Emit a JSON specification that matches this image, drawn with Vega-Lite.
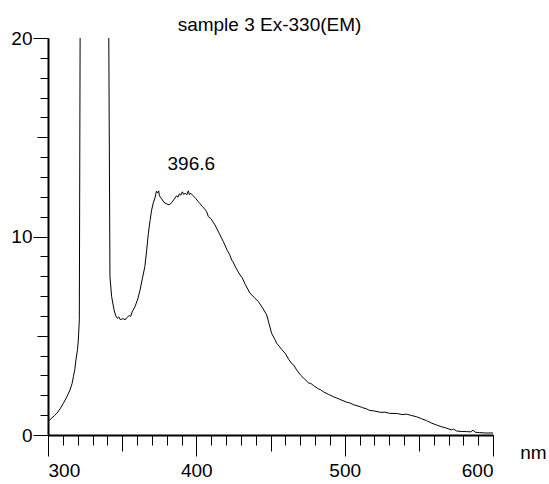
{
  "$schema": "https://vega.github.io/schema/vega-lite/v6.json",
  "width": 445,
  "height": 397,
  "autosize": "none",
  "padding": {"left": 48, "top": 38, "right": 56, "bottom": 49},
  "background": "white",
  "title": {"text": "sample 3 Ex-330(EM)", "frame": "group", "anchor": "middle", "dx": -1, "offset": -21, "baseline": "alphabetic", "font": "Liberation Sans", "fontSize": 19, "fontWeight": "normal", "color": "black"},
  "config": {
    "view": {"stroke": null},
    "axis": {"grid": false, "domainColor": "black", "tickColor": "black", "labelColor": "black", "titleColor": "black", "labelFont": "Liberation Sans", "titleFont": "Liberation Sans", "labelFontSize": 19, "titleFontSize": 19, "titleFontWeight": "normal", "tickWidth": 1, "domainWidth": 2}
  },
  "datasets": {
    "spectrum": [
      {"nm": 300, "v": 0.67}, {"nm": 302.46, "v": 0.85}, {"nm": 304.36, "v": 0.98}, {"nm": 305.89, "v": 1.09}, {"nm": 308.17, "v": 1.32},
      {"nm": 310.36, "v": 1.6}, {"nm": 312.93, "v": 1.95}, {"nm": 314.83, "v": 2.27}, {"nm": 316.26, "v": 2.6}, {"nm": 317.12, "v": 2.94},
      {"nm": 318.07, "v": 3.3}, {"nm": 318.83, "v": 3.78}, {"nm": 319.88, "v": 4.3}, {"nm": 320.45, "v": 4.79}, {"nm": 321.12, "v": 5.8},
      {"nm": 321.69, "v": 21}, {"nm": 340.92, "v": 21}, {"nm": 341.77, "v": 7.97}, {"nm": 342.91, "v": 6.97}, {"nm": 344.53, "v": 6.3},
      {"nm": 345.68, "v": 6.0}, {"nm": 346.72, "v": 5.88}, {"nm": 347.67, "v": 5.95}, {"nm": 348.62, "v": 5.82}, {"nm": 350.82, "v": 5.86},
      {"nm": 351.96, "v": 5.8}, {"nm": 352.91, "v": 5.9}, {"nm": 354.81, "v": 6.02}, {"nm": 355.77, "v": 5.98}, {"nm": 356.72, "v": 6.2},
      {"nm": 358.62, "v": 6.46}, {"nm": 360.53, "v": 6.85}, {"nm": 362.05, "v": 7.3}, {"nm": 363.67, "v": 7.9}, {"nm": 365.28, "v": 8.48},
      {"nm": 366.52, "v": 9.3}, {"nm": 367.66, "v": 10.16}, {"nm": 368.81, "v": 10.8}, {"nm": 369.85, "v": 11.33}, {"nm": 370.99, "v": 11.7},
      {"nm": 372.14, "v": 11.95}, {"nm": 373.09, "v": 12.28}, {"nm": 373.85, "v": 12.2}, {"nm": 374.61, "v": 12.3}, {"nm": 375.09, "v": 12.05},
      {"nm": 376.61, "v": 11.9}, {"nm": 378.13, "v": 11.72}, {"nm": 380.04, "v": 11.64}, {"nm": 381.66, "v": 11.6}, {"nm": 383.37, "v": 11.7},
      {"nm": 385.08, "v": 11.88}, {"nm": 386.7, "v": 12.05}, {"nm": 387.65, "v": 11.98}, {"nm": 388.6, "v": 12.15}, {"nm": 389.56, "v": 12.08},
      {"nm": 390.6, "v": 12.25}, {"nm": 391.46, "v": 12.12}, {"nm": 392.41, "v": 12.18}, {"nm": 393.55, "v": 12.1}, {"nm": 394.6, "v": 12.3},
      {"nm": 395.36, "v": 12.1}, {"nm": 396.22, "v": 12.18}, {"nm": 397.93, "v": 12.05}, {"nm": 399.55, "v": 11.92}, {"nm": 401.36, "v": 11.75},
      {"nm": 402.41, "v": 11.66}, {"nm": 404.12, "v": 11.5}, {"nm": 405.26, "v": 11.42}, {"nm": 406.98, "v": 11.25}, {"nm": 408.12, "v": 11.0},
      {"nm": 409.83, "v": 10.9}, {"nm": 412.59, "v": 10.58}, {"nm": 415.35, "v": 10.17}, {"nm": 418.21, "v": 9.74}, {"nm": 420.97, "v": 9.28},
      {"nm": 422.4, "v": 9.1}, {"nm": 423.82, "v": 8.82}, {"nm": 424.78, "v": 8.72}, {"nm": 426.68, "v": 8.42}, {"nm": 429.44, "v": 8.06},
      {"nm": 430.96, "v": 7.92}, {"nm": 432.87, "v": 7.6}, {"nm": 436.2, "v": 7.14}, {"nm": 439.06, "v": 6.93}, {"nm": 441.82, "v": 6.72},
      {"nm": 444.67, "v": 6.4}, {"nm": 447.43, "v": 6.05}, {"nm": 449.05, "v": 5.6}, {"nm": 450.76, "v": 5.12}, {"nm": 453.05, "v": 4.8},
      {"nm": 454.19, "v": 4.62}, {"nm": 455.24, "v": 4.53}, {"nm": 457.62, "v": 4.3}, {"nm": 459.81, "v": 4.12}, {"nm": 462.38, "v": 3.8},
      {"nm": 464.28, "v": 3.6}, {"nm": 465.71, "v": 3.52}, {"nm": 467.61, "v": 3.28}, {"nm": 470.47, "v": 3.0}, {"nm": 473.23, "v": 2.8},
      {"nm": 475.7, "v": 2.62}, {"nm": 477.13, "v": 2.6}, {"nm": 478.84, "v": 2.5}, {"nm": 482.37, "v": 2.32}, {"nm": 483.79, "v": 2.28},
      {"nm": 485.6, "v": 2.18}, {"nm": 489.03, "v": 2.05}, {"nm": 492.36, "v": 1.93}, {"nm": 494.74, "v": 1.86}, {"nm": 496.65, "v": 1.8},
      {"nm": 501.4, "v": 1.65}, {"nm": 503.31, "v": 1.62}, {"nm": 506.16, "v": 1.52}, {"nm": 510.35, "v": 1.43}, {"nm": 511.88, "v": 1.38},
      {"nm": 514.73, "v": 1.32}, {"nm": 516.64, "v": 1.24}, {"nm": 519.3, "v": 1.22}, {"nm": 524.25, "v": 1.14}, {"nm": 527.11, "v": 1.15},
      {"nm": 530.53, "v": 1.09}, {"nm": 535.67, "v": 1.08}, {"nm": 538.53, "v": 1.03}, {"nm": 541.86, "v": 1.05}, {"nm": 545.19, "v": 0.98},
      {"nm": 548.52, "v": 0.92}, {"nm": 551.86, "v": 0.82}, {"nm": 555.28, "v": 0.72}, {"nm": 558.52, "v": 0.6}, {"nm": 562.04, "v": 0.5},
      {"nm": 565.18, "v": 0.42}, {"nm": 568.8, "v": 0.34}, {"nm": 571.85, "v": 0.26}, {"nm": 573.27, "v": 0.3}, {"nm": 575.56, "v": 0.2},
      {"nm": 578.51, "v": 0.18}, {"nm": 582.32, "v": 0.17}, {"nm": 585, "v": 0.16}, {"nm": 586.5, "v": 0.24}, {"nm": 588, "v": 0.14},
      {"nm": 591, "v": 0.12}, {"nm": 595, "v": 0.1}, {"nm": 600, "v": 0.1}
    ],
    "labels": [{"nm": 396.6, "v": 13.35, "label": "396.6"}]
  },
  "resolve": {"axis": {"x": "independent", "y": "independent"}},
  "layer": [
    {
      "data": {"name": "spectrum"},
      "mark": {"type": "line", "color": "black", "strokeWidth": 1, "clip": true, "interpolate": "linear"},
      "encoding": {
        "x": {"field": "nm", "type": "quantitative", "scale": {"domain": [300, 600], "nice": false, "zero": false},
              "axis": {"orient": "bottom", "values": [300,310,320,330,340,350,360,370,380,390,400,410,420,430,440,450,460,470,480,490,500,510,520,530,540,550,560,570,580,590,600], "tickSize": 10, "labels": false, "title": null, "domain": true}},
        "y": {"field": "v", "type": "quantitative", "scale": {"domain": [0, 20], "nice": false, "zero": true},
              "axis": {"orient": "left", "values": [0,1,2,3,4,5,6,7,8,9,10,11,12,13,14,15,16,17,18,19,20], "tickSize": 8, "labels": false, "title": null, "domain": true}}
      }
    },
    {
      "data": {"name": "labels"},
      "mark": {"type": "text", "font": "Liberation Sans", "fontSize": 19, "color": "black", "baseline": "alphabetic", "align": "center"},
      "encoding": {
        "x": {"field": "nm", "type": "quantitative", "scale": {"domain": [300, 600], "nice": false, "zero": false},
              "axis": {"orient": "bottom", "values": [350, 450, 550], "tickSize": 16, "labels": false, "title": null, "domain": false}},
        "y": {"field": "v", "type": "quantitative", "scale": {"domain": [0, 20], "nice": false, "zero": true},
              "axis": {"orient": "left", "values": [5, 15], "tickSize": 11, "labels": false, "title": null, "domain": false}},
        "text": {"field": "label", "type": "nominal"}
      }
    },
    {
      "data": {"name": "spectrum"},
      "mark": {"type": "line", "strokeOpacity": 0, "clip": true},
      "encoding": {
        "x": {"field": "nm", "type": "quantitative", "scale": {"domain": [300, 600], "nice": false, "zero": false},
              "axis": {"orient": "bottom", "values": [300, 400, 500, 600], "tickSize": 21, "labelPadding": 5, "domain": false, "format": "d", "title": "nm", "titleX": 485, "titleY": 23, "titleAlign": "center", "titleBaseline": "alphabetic", "titleAnchor": null}},
        "y": {"field": "v", "type": "quantitative", "scale": {"domain": [0, 20], "nice": false, "zero": true},
              "axis": {"orient": "left", "values": [0, 10, 20], "tickSize": 15, "labelPadding": 1, "domain": false, "format": "d", "title": null}}
      }
    }
  ]
}
